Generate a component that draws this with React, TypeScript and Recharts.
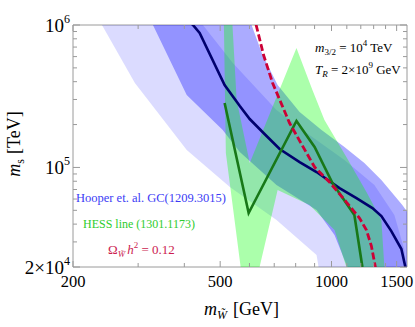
import React from 'react';
import { ScatterChart, Scatter, XAxis, YAxis } from 'recharts';

// ---------- tick values ----------
const xTicks = [200, 300, 400, 500, 600, 700, 800, 900, 1000, 1100, 1200, 1300, 1400, 1500];
const xMajorTicks = [200, 500, 1000, 1500];
const yTicks = [
  20000, 30000, 40000, 50000, 60000, 70000, 80000, 90000,
  100000, 200000, 300000, 400000, 500000, 600000, 700000, 800000, 900000, 1000000,
];
const yTickLabels = [
  { value: 1000000, base: '10', exp: '6' },
  { value: 100000, base: '10', exp: '5' },
  { value: 20000, base: '2×10', exp: '4' },
];

// ---------- regions (polygon outlines, m_W [GeV] vs m_s [TeV]) ----------
const hooperWideBand = [
  { x: 231, y: 1176000 }, { x: 239.5, y: 1000000 }, { x: 294, y: 391500 }, { x: 406, y: 132500 },
  { x: 531, y: 72800 }, { x: 710, y: 42700 }, { x: 911, y: 24300 }, { x: 940, y: 14900 },
  { x: 1623, y: 14900 }, { x: 1574, y: 26300 }, { x: 1479, y: 46300 }, { x: 1306, y: 75200 },
  { x: 1084, y: 112700 }, { x: 872, y: 168900 }, { x: 710, y: 252900 }, { x: 541, y: 541000 },
  { x: 449, y: 1000000 }, { x: 432, y: 1176000 },
];
const hooperNarrowBand = [
  { x: 326, y: 1176000 }, { x: 329, y: 1000000 }, { x: 406, y: 322400 }, { x: 508, y: 183100 },
  { x: 565, y: 128300 }, { x: 710, y: 75200 }, { x: 911, y: 50200 }, { x: 1019, y: 33500 },
  { x: 1104, y: 19980 }, { x: 1132, y: 14900 }, { x: 1838, y: 14900 }, { x: 1727, y: 37500 },
  { x: 1554, y: 54450 }, { x: 1364, y: 81550 }, { x: 1227, y: 107400 }, { x: 1084, y: 139100 },
  { x: 940, y: 183100 }, { x: 820, y: 244900 }, { x: 715, y: 379000 }, { x: 651, y: 615700 },
  { x: 608, y: 1000000 }, { x: 586, y: 1176000 },
];
const hessBand = [
  { x: 511, y: 1274000 }, { x: 537, y: 1274000 }, { x: 554, y: 297400 }, { x: 601, y: 107400 },
  { x: 804, y: 689500 }, { x: 888, y: 349600 }, { x: 957, y: 215200 }, { x: 1097, y: 118300 },
  { x: 1243, y: 67180 }, { x: 1364, y: 42720 }, { x: 1390, y: 19980 }, { x: 1399, y: 14940 },
  { x: 1104, y: 14940 }, { x: 1097, y: 19980 }, { x: 1019, y: 36340 }, { x: 872, y: 54450 },
  { x: 715, y: 69380 }, { x: 639, y: 19980 }, { x: 635, y: 14940 }, { x: 572, y: 14940 },
  { x: 568, y: 19980 }, { x: 518, y: 126200 },
];

// ---------- curves ----------
const hooperLine = [
  { x: 410, y: 1084000 }, { x: 422, y: 1000000 }, { x: 440, y: 878600 }, { x: 514, y: 379000 },
  { x: 565, y: 269900 }, { x: 601, y: 218700 }, { x: 659, y: 171600 }, { x: 724, y: 134700 },
  { x: 820, y: 109100 }, { x: 911, y: 92840 }, { x: 1051, y: 71660 }, { x: 1168, y: 60970 },
  { x: 1290, y: 51870 }, { x: 1364, y: 45560 }, { x: 1451, y: 35760 }, { x: 1545, y: 26730 },
  { x: 1584, y: 19980 }, { x: 1620, y: 15000 },
];
const hessLine = [
  { x: 514, y: 283300 }, { x: 597, y: 47840 }, { x: 804, y: 211800 }, { x: 900, y: 139100 },
  { x: 1006, y: 77680 }, { x: 1153, y: 46320 }, { x: 1212, y: 19980 },
];
const relicLine = [
  { x: 616, y: 1175000 }, { x: 655, y: 615700 }, { x: 693, y: 391500 }, { x: 770, y: 205000 },
  { x: 900, y: 100650 }, { x: 987, y: 78950 }, { x: 1097, y: 57150 }, { x: 1190, y: 44110 },
  { x: 1243, y: 36340 }, { x: 1282, y: 28060 }, { x: 1314, y: 19980 }, { x: 1318, y: 15000 },
];

const FRAME = '#9a9a9a';
const SERIF = "'Liberation Serif', 'Times New Roman', serif";

const noShape = () => <g />;

function BottomTick(props: any) {
  const { x, y, payload } = props;
  const v = payload.value;
  const major = xMajorTicks.includes(v);
  return (
    <g>
      <line x1={x} y1={y} x2={x} y2={y - (major ? 6 : 4)} stroke={FRAME} strokeWidth={1} />
      {major && (
        <text x={x} y={y + 20} textAnchor="middle" fontFamily={SERIF} fontSize={16.5} fill="#000">
          {v}
        </text>
      )}
    </g>
  );
}

function TopTick(props: any) {
  const { x, y, payload } = props;
  const major = xMajorTicks.includes(payload.value);
  return <line x1={x} y1={y} x2={x} y2={y + (major ? 6 : 4)} stroke={FRAME} strokeWidth={1} />;
}

function LeftTick(props: any) {
  const { x, y, payload } = props;
  const lab = yTickLabels.find((l) => l.value === payload.value);
  return (
    <g>
      <line x1={x} y1={y} x2={x + (lab ? 7 : 4)} y2={y} stroke={FRAME} strokeWidth={1} />
      {lab && (
        <text x={x - 3} y={y + 7} textAnchor="end" fontFamily={SERIF} fontSize={19} fill="#000">
          {lab.base}
          <tspan dy={-9} fontSize={12}>{lab.exp}</tspan>
        </text>
      )}
    </g>
  );
}

function RightTick(props: any) {
  const { x, y, payload } = props;
  const lab = yTickLabels.find((l) => l.value === payload.value);
  return <line x1={x} y1={y} x2={x - (lab ? 7 : 4)} y2={y} stroke={FRAME} strokeWidth={1} />;
}

export default function App() {
  return (
    <div style={{ position: 'absolute', left: 0, top: 0, width: 415, height: 327, background: '#fff' }}>
      <div style={{ position: 'absolute', left: 0, top: 0 }}>
        <ScatterChart width={415} height={327} margin={{ top: 24, right: 7, bottom: 0, left: 0 }}>
          <XAxis
            xAxisId="b" type="number" dataKey="x" scale="log" domain={[200, 1600]} allowDataOverflow
            ticks={xTicks} interval={0} orientation="bottom" height={60} tickSize={0} tickMargin={0}
            tickLine={false} axisLine={{ stroke: FRAME }} tick={(p: any) => <BottomTick {...p} />}
          />
          <XAxis
            xAxisId="t" type="number" dataKey="x" scale="log" domain={[200, 1600]} allowDataOverflow
            ticks={xTicks} interval={0} orientation="top" height={1} tickSize={0} tickMargin={0}
            tickLine={false} axisLine={{ stroke: FRAME }} tick={(p: any) => <TopTick {...p} />}
          />
          <YAxis
            yAxisId="l" type="number" dataKey="y" scale="log" domain={[20000, 1000000]} allowDataOverflow
            ticks={yTicks} interval={0} orientation="left" width={73} tickSize={0} tickMargin={0}
            tickLine={false} axisLine={{ stroke: FRAME }} tick={(p: any) => <LeftTick {...p} />}
          />
          <YAxis
            yAxisId="r" type="number" dataKey="y" scale="log" domain={[20000, 1000000]} allowDataOverflow
            ticks={yTicks} interval={0} orientation="right" width={1} tickSize={0} tickMargin={0}
            tickLine={false} axisLine={{ stroke: FRAME }} tick={(p: any) => <RightTick {...p} />}
          />
          <Scatter
            data={hooperWideBand} xAxisId="b" yAxisId="l" isAnimationActive={false} shape={noShape}
            line={{ fill: '#0000ff', fillOpacity: 0.14, stroke: 'none' }}
          />
          <Scatter
            data={hooperNarrowBand} xAxisId="b" yAxisId="l" isAnimationActive={false} shape={noShape}
            line={{ fill: '#0000ff', fillOpacity: 0.33, stroke: 'none' }}
          />
          <Scatter
            data={hessBand} xAxisId="b" yAxisId="l" isAnimationActive={false} shape={noShape}
            line={{ fill: '#00ff00', fillOpacity: 0.33, stroke: 'none' }}
          />
          <Scatter
            data={hooperLine} xAxisId="b" yAxisId="l" isAnimationActive={false} shape={noShape}
            line={{ fill: 'none', stroke: '#00006e', strokeWidth: 2.6 }}
          />
          <Scatter
            data={hessLine} xAxisId="b" yAxisId="l" isAnimationActive={false} shape={noShape}
            line={{ fill: 'none', stroke: '#187818', strokeWidth: 2.6 }}
          />
          <Scatter
            data={relicLine} xAxisId="b" yAxisId="l" isAnimationActive={false} shape={noShape}
            line={{ fill: 'none', stroke: '#cc0036', strokeWidth: 2.8, strokeDasharray: '7 3' }}
          />
        </ScatterChart>
      </div>
      <svg
        width={415} height={327}
        style={{ position: 'absolute', left: 0, top: 0, pointerEvents: 'none' }}
        fontFamily={SERIF}
      >
        <text transform="rotate(-90 20 144)" x={20} y={144} textAnchor="middle" fontSize={18} fill="#000">
          <tspan fontStyle="italic">m</tspan>
          <tspan dy={4} fontSize={12}>s</tspan>
          <tspan dy={-4} dx={5}>[TeV]</tspan>
        </text>
        <text x={204} y={315} fontSize={18} fill="#000">
          <tspan fontStyle="italic">m</tspan>
          <tspan dy={4} fontSize={12} fontStyle="italic">W̃</tspan>
          <tspan dy={-4} dx={6}>[GeV]</tspan>
        </text>
        <text x={76} y={202} fontSize={12.5} fill="#3c3cf5">Hooper et. al. GC(1209.3015)</text>
        <text x={83} y={228} fontSize={12} fill="#2ecc2e">HESS line (1301.1173)</text>
        <text x={108} y={254} fontSize={13} fill="#cc1c50">
          Ω<tspan dy={3} fontSize={9} fontStyle="italic">W̃</tspan>
          <tspan dy={-3} dx={2} fontStyle="italic">h</tspan>
          <tspan dy={-6} fontSize={9}>2</tspan>
          <tspan dy={6}> = 0.12</tspan>
        </text>
        <text x={315} y={52} fontSize={13} fill="#000">
          <tspan fontStyle="italic">m</tspan>
          <tspan dy={3} fontSize={9}>3/2</tspan>
          <tspan dy={-3}> = 10</tspan>
          <tspan dy={-6} fontSize={9}>4</tspan>
          <tspan dy={6}> TeV</tspan>
        </text>
        <text x={315} y={74} fontSize={13} fill="#000">
          <tspan fontStyle="italic">T</tspan>
          <tspan dy={3} fontSize={9} fontStyle="italic">R</tspan>
          <tspan dy={-3}> = 2×10</tspan>
          <tspan dy={-6} fontSize={9}>9</tspan>
          <tspan dy={6}> GeV</tspan>
        </text>
      </svg>
    </div>
  );
}
